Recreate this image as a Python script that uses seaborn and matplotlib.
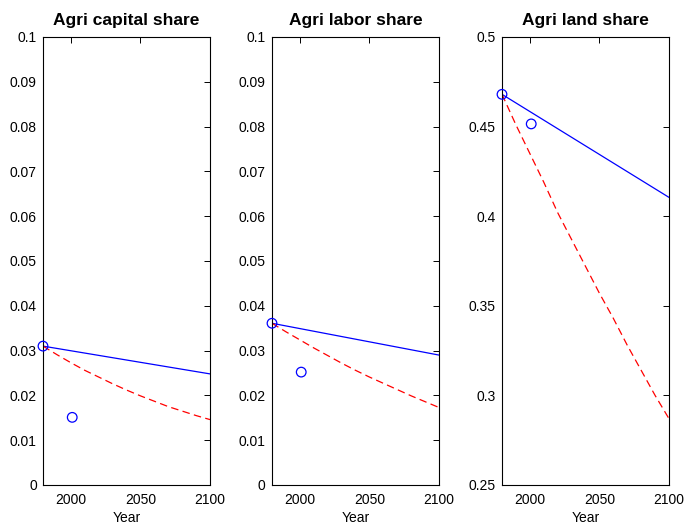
import matplotlib
matplotlib.use("Agg")
import matplotlib.pyplot as plt
import matplotlib.ticker as mticker
import numpy as np
import pandas as pd
import seaborn as sns

# Projection grid (decades) for the baseline-trend scenario (red dashed)
years = [1980, 1990, 2000, 2010, 2020, 2030, 2040, 2050, 2060, 2070, 2080, 2090, 2100]
capital_trend = [0.0310, 0.0291, 0.0273, 0.0256, 0.0241, 0.0226, 0.0212,
                 0.0199, 0.0187, 0.0175, 0.0165, 0.0155, 0.0146]
labor_trend = [0.0361, 0.0342, 0.0324, 0.0306, 0.0289, 0.0272, 0.0256,
               0.0241, 0.0227, 0.0213, 0.0199, 0.0186, 0.0173]
land_trend = [0.468, 0.451, 0.435, 0.419, 0.402, 0.387, 0.372,
              0.357, 0.343, 0.328, 0.314, 0.300, 0.287]

# Linear model path (blue solid), endpoints
line_years = [1980, 2100]
capital_line = [0.0310, 0.0248]
labor_line = [0.0361, 0.0290]
land_line = [0.468, 0.4105]

# Observed data points (blue circles)
obs_years = [1980, 2001]
capital_obs = [0.0310, 0.0151]
labor_obs = [0.0361, 0.0252]
land_obs = [0.468, 0.4515]

titles = ["Agri capital share", "Agri labor share", "Agri land share"]
ylims = [(0, 0.1), (0, 0.1), (0.25, 0.5)]
yticks = [np.round(np.arange(0, 0.1001, 0.01), 2),
          np.round(np.arange(0, 0.1001, 0.01), 2),
          np.round(np.arange(0.25, 0.5001, 0.05), 2)]
xticks = [2000, 2050, 2100]

sns.set_style("white")
plt.rcParams["font.family"] = ["Liberation Sans", "DejaVu Sans"]
plt.rcParams["text.color"] = "black"

fig = plt.figure(figsize=(6.84, 5.26), dpi=100)
lefts = [43 / 684, 272 / 684, 502 / 684]
width = 167 / 684
bottom = 41 / 526
height = 448 / 526

series = [
    (capital_trend, capital_line, capital_obs),
    (labor_trend, labor_line, labor_obs),
    (land_trend, land_line, land_obs),
]

for i, (trend, line, obs) in enumerate(series):
    ax = fig.add_axes([lefts[i], bottom, width, height])
    sns.lineplot(x=line_years, y=line, ax=ax, color="#0000ff", lw=0.9)
    sns.lineplot(x=years, y=trend, ax=ax, color="#ff0000", lw=0.9,
                 linestyle=(0, (6, 3.5)))
    sns.scatterplot(x=obs_years, y=obs, ax=ax, marker="o", s=48,
                    facecolor="none", edgecolor="#0000ff", linewidth=0.9,
                    clip_on=False, zorder=5)
    ax.set_xlim(1980, 2100)
    ax.set_ylim(*ylims[i])
    ax.set_xticks(xticks)
    ax.set_yticks(yticks[i])
    ax.yaxis.set_major_formatter(mticker.FormatStrFormatter("%g"))
    ax.tick_params(direction="in", length=4.5, width=0.7, top=True, right=True,
                   labelsize=10, pad=4.5, colors="black")
    ax.tick_params(axis="x", pad=6)
    for sp in ax.spines.values():
        sp.set_color("black")
        sp.set_linewidth(0.8)
    ax.set_title(titles[i], fontsize=12.5, fontweight="bold", pad=9,
                 color="black")
    ax.set_xlabel("Year", fontsize=10, labelpad=3, color="black")
    ax.set_ylabel("")

fig.savefig("out.png", dpi=100)
